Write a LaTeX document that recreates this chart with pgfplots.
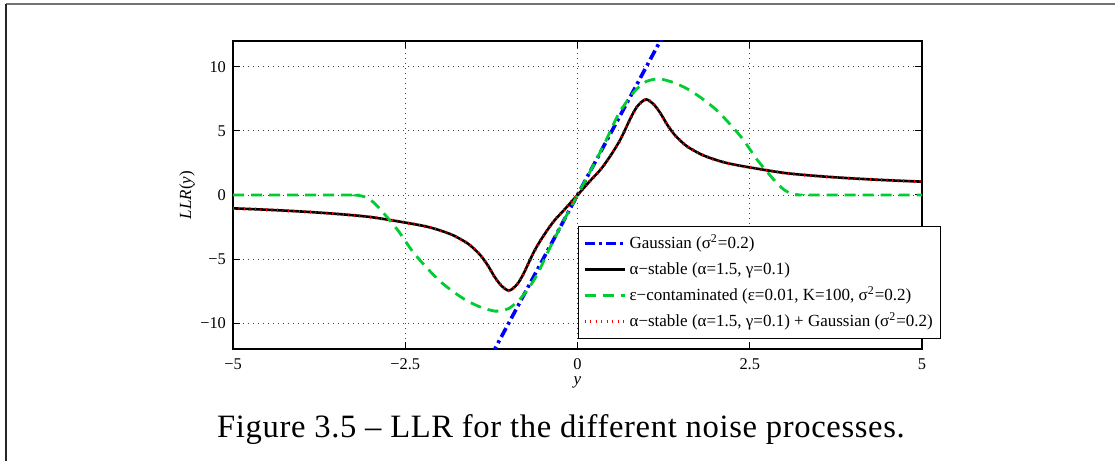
\documentclass[border=0pt]{standalone}
\usepackage{fontspec}
\setmainfont{Liberation Serif}
\usepackage{pgfplots}
\pgfplotsset{compat=1.18}
\definecolor{mgreen}{RGB}{0,204,51}
\begin{document}
\begin{tikzpicture}
\useasboundingbox (0,0) rectangle (557.5pt,230.5pt);
\draw[black!55, line width=1pt] (3pt,228.5pt) -- (557.5pt,228.5pt);
\draw[black!85, line width=0.8pt] (3pt,0pt) -- (3pt,228.5pt);
\begin{axis}[
  at={(116.5pt,56pt)}, anchor=south west,
  width=344.5pt, height=154pt, scale only axis,
  xmin=-5, xmax=5, ymin=-12, ymax=12,
  xtick={-5,-2.5,0,2.5,5}, xticklabels={−5,−2.5,0,2.5,5},
  ytick={-10,-5,0,5,10}, yticklabels={−10,−5,0,5,10},
  tick align=inside, major tick length=3.5pt,
  grid=major,
  grid style={black!75, line width=0.45pt, dash pattern=on 0.5pt off 2pt},
  axis line style={line width=0.6pt},
  tick style={black, line width=0.5pt},
  ticklabel style={font=\fontsize{8.2}{9}\selectfont},
  xticklabel style={yshift=-1.2pt},
  xlabel={\textit{y}}, ylabel={\textit{LLR}(\textit{y})},
  label style={font=\fontsize{8.5}{10}\selectfont},
  xlabel style={at={(axis description cs:0.5,0)}, anchor=center, yshift=-16.5pt},
  ylabel style={at={(axis description cs:-0.0668,0.5)}, anchor=center},
  legend cell align=left,
  legend image code/.code={\draw[#1] (0pt,0pt) -- (20pt,0pt);},
  legend style={at={(0.5,0.3994)}, anchor=north west, draw=black, line width=0.5pt,
    fill=white, font=\fontsize{8.5}{10}\selectfont, row sep=0pt, inner xsep=2.4pt, inner ysep=2pt,
    nodes={inner sep=1.6pt, text height=7.3pt, text depth=2.5pt}},
]
\addplot[blue, line width=1.8pt, dash pattern=on 5pt off 2pt on 1.5pt off 2pt] coordinates {(-1.25,-12.5) (1.25,12.5)};
\addlegendentry{Gaussian (σ\textsuperscript{2}=0.2)}
\addplot[black, line width=1.3pt, smooth] table {
x y
-5 -1.04
-4.5 -1.15
-4 -1.29
-3.5 -1.47
-3 -1.72
-2.5 -2.15
-2.2 -2.45
-2 -2.75
-1.8 -3.15
-1.6 -3.75
-1.5 -4.2
-1.4 -4.75
-1.3 -5.5
-1.2 -6.4
-1.1 -7.1
-1.0 -7.45
-0.93 -7.25
-0.86 -6.85
-0.78 -6.1
-0.71 -5.3
-0.62 -4.3
-0.52 -3.4
-0.42 -2.6
-0.33 -1.95
-0.2 -1.2
-0.1 -0.6
0 0
0.1 0.6
0.2 1.2
0.33 1.95
0.42 2.6
0.52 3.4
0.62 4.3
0.71 5.3
0.78 6.1
0.86 6.85
0.93 7.25
1.0 7.45
1.1 7.1
1.2 6.4
1.3 5.5
1.4 4.75
1.5 4.2
1.6 3.75
1.8 3.15
2 2.75
2.2 2.45
2.5 2.15
3 1.72
3.5 1.47
4 1.29
4.5 1.15
5 1.04
};
\addlegendentry{α−stable (α=1.5, γ=0.1)}
\addplot[mgreen, line width=1.4pt, dash pattern=on 5.5pt off 3.5pt, smooth] table {
x y
-5 0
-3.3 0
-3.2 -0.02
-3.1 -0.12
-3.0 -0.4
-2.9 -0.9
-2.8 -1.5
-2.6 -2.8
-2.4 -4.35
-2.2 -5.6
-2.0 -6.7
-1.8 -7.55
-1.6 -8.25
-1.4 -8.75
-1.2 -9.05
-1.1 -9.0
-1.0 -8.85
-0.9 -8.45
-0.8 -7.9
-0.6 -6.35
-0.4 -4.1
-0.2 -2.0
0 0
0.2 2.0
0.4 4.1
0.6 6.35
0.8 7.9
0.9 8.45
1.0 8.85
1.1 9.0
1.2 9.05
1.4 8.75
1.6 8.25
1.8 7.55
2.0 6.7
2.2 5.6
2.4 4.35
2.6 2.8
2.8 1.5
2.9 0.9
3.0 0.4
3.1 0.12
3.2 0.02
3.3 0
5 0
};
\addlegendentry{ε−contaminated (ε=0.01, K=100, σ\textsuperscript{2}=0.2)}
\addplot[red, line width=1.6pt, dash pattern=on 0.45pt off 2.3pt, smooth] table {
x y
-5 -1.04
-4.5 -1.15
-4 -1.29
-3.5 -1.47
-3 -1.72
-2.5 -2.15
-2.2 -2.45
-2 -2.75
-1.8 -3.15
-1.6 -3.75
-1.5 -4.2
-1.4 -4.75
-1.3 -5.5
-1.2 -6.4
-1.1 -7.1
-1.0 -7.45
-0.93 -7.25
-0.86 -6.85
-0.78 -6.1
-0.71 -5.3
-0.62 -4.3
-0.52 -3.4
-0.42 -2.6
-0.33 -1.95
-0.2 -1.2
-0.1 -0.6
0 0
0.1 0.6
0.2 1.2
0.33 1.95
0.42 2.6
0.52 3.4
0.62 4.3
0.71 5.3
0.78 6.1
0.86 6.85
0.93 7.25
1.0 7.45
1.1 7.1
1.2 6.4
1.3 5.5
1.4 4.75
1.5 4.2
1.6 3.75
1.8 3.15
2 2.75
2.2 2.45
2.5 2.15
3 1.72
3.5 1.47
4 1.29
4.5 1.15
5 1.04
};
\addlegendentry{α−stable (α=1.5, γ=0.1) + Gaussian (σ\textsuperscript{2}=0.2)}
\end{axis}
\node[anchor=base, font=\fontsize{16.3}{19}\selectfont\addfontfeature{LetterSpace=2}] at (280.5pt,12pt) {Figure 3.5 – LLR for the different noise processes.};
\end{tikzpicture}
\end{document}
